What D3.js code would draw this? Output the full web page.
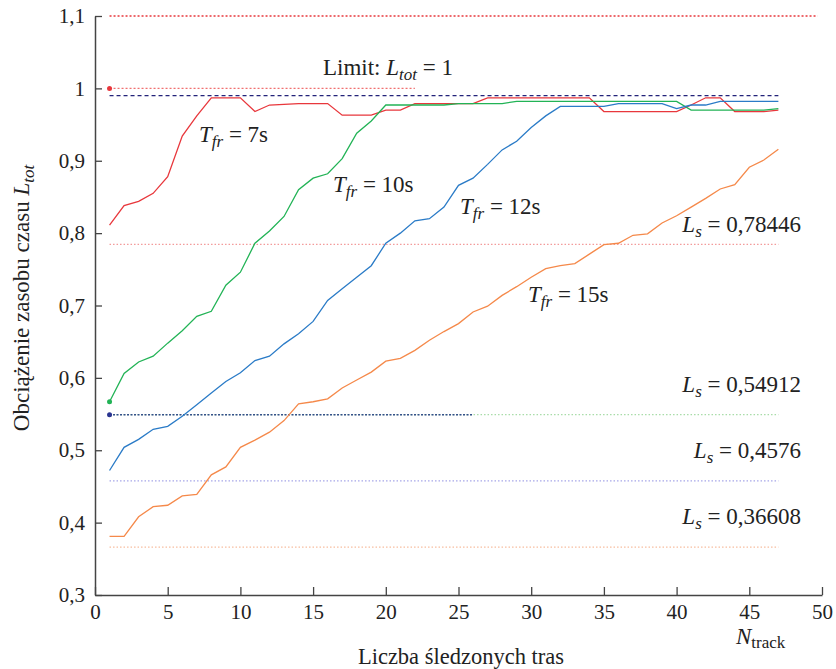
<!DOCTYPE html>
<html>
<head>
<meta charset="utf-8">
<script src="https://cdn.jsdelivr.net/npm/d3@7"></script>
<style>
  body { margin: 0; background: #fff; }
</style>
</head>
<body>
<svg id="chart" width="836" height="669"></svg>
<script>
// DATA
const nTracks = d3.range(1, 48); // 1..47

const load7 = [0.811, 0.838, 0.844, 0.855, 0.878, 0.934, 0.962, 0.987, 0.987, 0.987,
  0.968, 0.977, 0.978, 0.979, 0.979, 0.979, 0.963, 0.963, 0.963, 0.970,
  0.970, 0.979, 0.979, 0.979, 0.979, 0.979, 0.987, 0.987, 0.987, 0.987,
  0.987, 0.987, 0.987, 0.987, 0.968, 0.968, 0.968, 0.968, 0.968, 0.968,
  0.977, 0.987, 0.987, 0.968, 0.968, 0.968, 0.970];

const load10 = [0.567, 0.606, 0.622, 0.630, 0.648, 0.665, 0.685, 0.692, 0.728, 0.746,
  0.786, 0.803, 0.823, 0.860, 0.876, 0.882, 0.903, 0.938, 0.955, 0.977,
  0.977, 0.977, 0.977, 0.977, 0.979, 0.979, 0.979, 0.979, 0.982, 0.982,
  0.982, 0.982, 0.982, 0.982, 0.982, 0.982, 0.982, 0.982, 0.982, 0.982,
  0.970, 0.970, 0.970, 0.970, 0.970, 0.970, 0.972];

const load12 = [0.472, 0.504, 0.515, 0.529, 0.533, 0.547, 0.563, 0.579, 0.595, 0.607,
  0.624, 0.630, 0.647, 0.661, 0.678, 0.707, 0.723, 0.739, 0.755, 0.786,
  0.800, 0.817, 0.820, 0.836, 0.866, 0.876, 0.895, 0.915, 0.927, 0.946,
  0.962, 0.975, 0.975, 0.975, 0.975, 0.979, 0.979, 0.979, 0.979, 0.972,
  0.977, 0.977, 0.982, 0.982, 0.982, 0.982, 0.982];

const load15 = [0.381, 0.381, 0.408, 0.422, 0.424, 0.437, 0.439, 0.466, 0.477, 0.504,
  0.514, 0.525, 0.541, 0.564, 0.567, 0.571, 0.586, 0.597, 0.608, 0.623,
  0.627, 0.638, 0.652, 0.664, 0.675, 0.691, 0.699, 0.714, 0.726, 0.739,
  0.751, 0.755, 0.758, 0.771, 0.784, 0.786, 0.797, 0.799, 0.814, 0.824,
  0.836, 0.848, 0.861, 0.867, 0.891, 0.901, 0.916];

const seriesNames = ["7s", "10s", "12s", "15s"];
const seriesColors = ["#e8373c", "#22b356", "#2a7bc7", "#f5894a"];

// static load levels L_s (dotted lines)
const lsValues = [0.78446, 0.54912, 0.4576, 0.36608];
const lsColors = ["#f39a9a", "#a8dca8", "#a5a5e8", "#f7bd9e"];

const limitValue = 0.99;   // dashed limit line
const topValue = 1.1;      // red dotted line at the top
const yTicks = [0.3, 0.4, 0.5, 0.6, 0.7, 0.8, 0.9, 1.0, 1.1];
const xTicks = [0, 5, 10, 15, 20, 25, 30, 35, 40, 45, 50];

const SERIF = '"Liberation Serif", "Times New Roman", Times, serif';

// SCALES
const svg = d3.select("#chart").style("font-family", SERIF);
const x = d3.scaleLinear().domain([0, 50]).range([95, 822]);
const y = d3.scaleLinear().domain([0.3, 1.1]).range([595, 16]);

const fmt = d => String(+d.toFixed(1)).replace(".", ",");

// AXES
const gx = svg.append("g")
  .attr("transform", `translate(0,${y(0.3)})`)
  .call(d3.axisBottom(x).tickValues(xTicks).tickSize(-8).tickSizeOuter(0).tickPadding(9));
gx.attr("font-family", null).attr("font-size", null);
gx.selectAll("text").style("font-family", SERIF).style("font-size", "21px").attr("fill", "#222");
gx.selectAll("line").attr("stroke", "#444").attr("stroke-width", 1.3);
gx.select(".domain").attr("stroke", "#444").attr("stroke-width", 1.5);

const gy = svg.append("g")
  .attr("transform", `translate(${x(0)},0)`)
  .call(d3.axisLeft(y).tickValues(yTicks).tickFormat(fmt).tickSize(-7).tickSizeOuter(0).tickPadding(10));
gy.attr("font-family", null).attr("font-size", null);
gy.selectAll("text").style("font-family", SERIF).style("font-size", "21px").attr("fill", "#222");
gy.selectAll("line").attr("stroke", "#444").attr("stroke-width", 1.3);
gy.select(".domain").attr("stroke", "#444").attr("stroke-width", 1.5);

// REFERENCE LINES
function hline(v, x0, x1, color, dash, width) {
  svg.append("line")
    .attr("x1", x(x0)).attr("x2", x(x1))
    .attr("y1", y(v)).attr("y2", y(v))
    .attr("stroke", color)
    .attr("stroke-width", width)
    .attr("stroke-dasharray", dash);
}

hline(topValue, 1, 49.7, "#e8373c", "2,2", 1.5);
lsValues.forEach((v, i) => hline(v, 1, 47, lsColors[i], "1.5,2", 1.2));
hline(lsValues[1], 1, 26, "#34508a", "2,1.5", 1.4);
hline(1.0, 1, 22, "#f07070", "2,2", 1.2);
hline(limitValue, 1, 47, "#23237a", "4,3", 1.4);

// SERIES
const allSeries = [load7, load10, load12, load15];
const line = d3.line().x((d, i) => x(nTracks[i])).y(d => y(d));

allSeries.forEach((s, i) => {
  svg.append("path")
    .datum(s)
    .attr("d", line)
    .attr("fill", "none")
    .attr("stroke", seriesColors[i])
    .attr("stroke-width", 1.3);
});

// start markers
const markers = [
  { v: 1.0, c: "#e8373c" },
  { v: load10[0], c: "#22b356" },
  { v: lsValues[1], c: "#2a3590" }
];
markers.forEach(m => {
  svg.append("circle")
    .attr("cx", x(1)).attr("cy", y(m.v)).attr("r", 2.5)
    .attr("fill", m.c);
});

// LABELS
function newText(px, py, size) {
  return svg.append("text")
    .attr("x", px).attr("y", py)
    .style("font-family", SERIF)
    .style("font-size", size + "px")
    .attr("fill", "#222");
}

function tfrLabel(px, py, val) {
  const t = newText(px, py, 23);
  t.append("tspan").attr("font-style", "italic").text("T");
  t.append("tspan").attr("font-style", "italic").style("font-size", "17px").attr("dy", 5).text("fr");
  t.append("tspan").attr("dy", -5).text(" = " + val);
}
tfrLabel(199, 142, seriesNames[0]);
tfrLabel(333, 192, seriesNames[1]);
tfrLabel(460, 214, seriesNames[2]);
tfrLabel(528, 302, seriesNames[3]);

function lsLabel(py, val) {
  const t = newText(801, py, 23).attr("text-anchor", "end");
  t.append("tspan").attr("font-style", "italic").text("L");
  t.append("tspan").attr("font-style", "italic").style("font-size", "17px").attr("dy", 5).text("s");
  t.append("tspan").attr("dy", -5).text(" = " + String(val).replace(".", ","));
}
const lsLabelY = [232, 392, 458, 524];
lsValues.forEach((v, i) => lsLabel(lsLabelY[i], v));

const lim = newText(323, 75, 23);
lim.append("tspan").text("Limit: ");
lim.append("tspan").attr("font-style", "italic").text("L");
lim.append("tspan").attr("font-style", "italic").style("font-size", "17px").attr("dy", 5).text("tot");
lim.append("tspan").attr("dy", -5).text(" = 1");

// axis titles
newText(461, 664, 22.5)
  .attr("text-anchor", "middle")
  .text("Liczba śledzonych tras");

const nt = newText(736, 644, 23);
nt.append("tspan").attr("font-style", "italic").text("N");
nt.append("tspan").style("font-size", "17px").attr("dy", 4).text("track");

const yl = newText(0, 0, 23)
  .attr("transform", "translate(29,298) rotate(-90)")
  .attr("text-anchor", "middle");
yl.append("tspan").text("Obciążenie zasobu czasu ");
yl.append("tspan").attr("font-style", "italic").text("L");
yl.append("tspan").attr("font-style", "italic").style("font-size", "17px").attr("dy", 5).text("tot");
</script>
</body>
</html>
